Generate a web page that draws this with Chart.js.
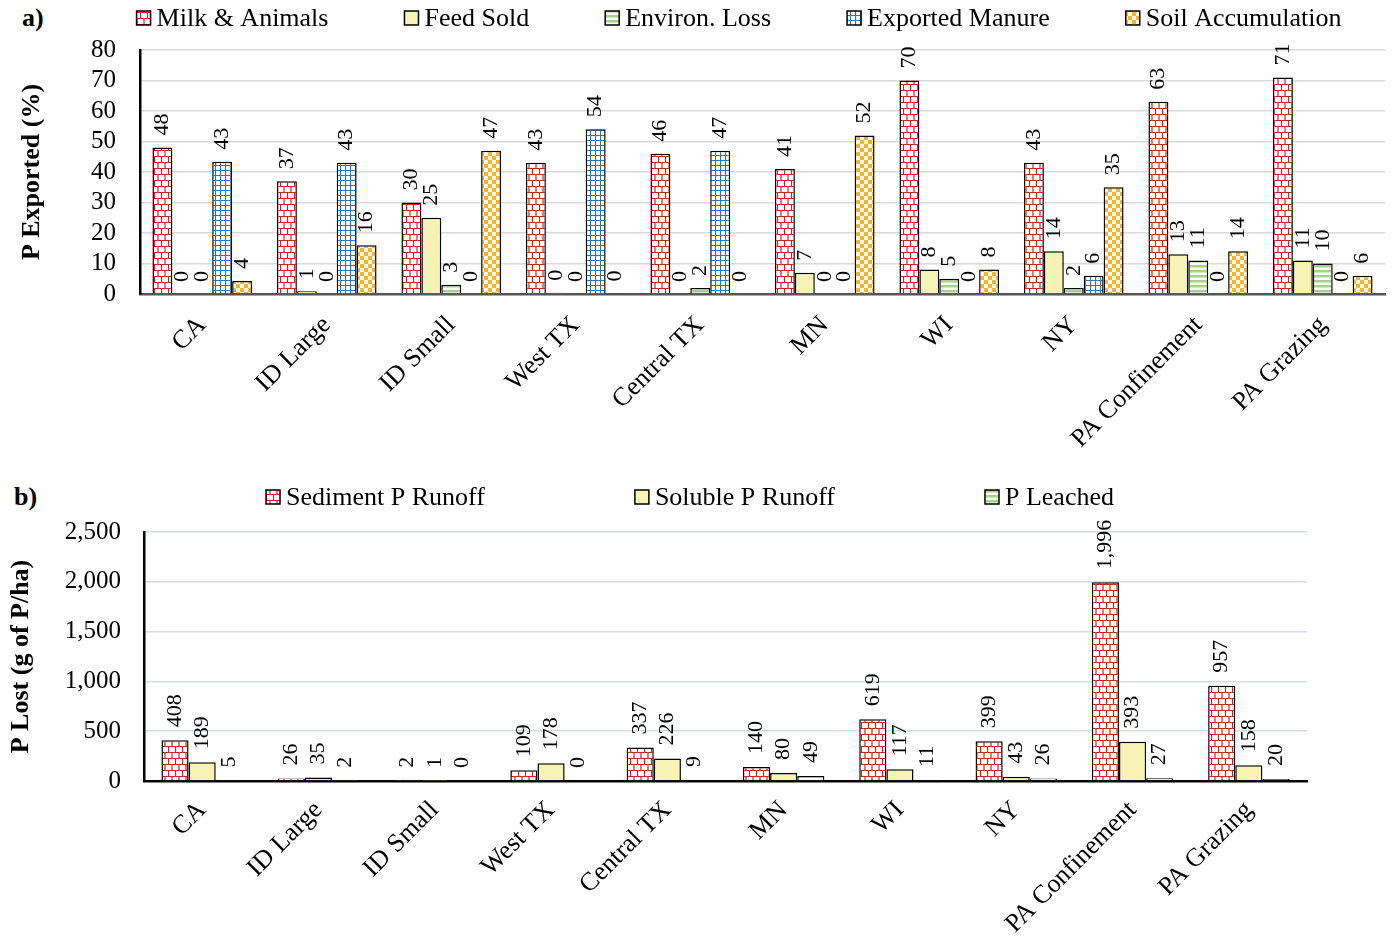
<!DOCTYPE html>
<html>
<head>
<meta charset="utf-8">
<script src="https://cdn.jsdelivr.net/npm/chart.js@4.4.1/dist/chart.umd.min.js"></script>
<style>
  body { margin: 0; background: #fff; width: 1392px; height: 941px; overflow: hidden; position: relative; }
  canvas { position: absolute; left: 0; }
  #chartA { top: 0; }
  #chartB { top: 470px; }
  .panel { position: absolute; font: bold 26px 'Liberation Serif', serif; line-height: 26px; }
</style>
</head>
<body>
<div class="panel" style="left:22px; top:5px;">a)</div>
<div class="panel" style="left:14px; top:484px;">b)</div>
<canvas id="chartA" width="1392" height="470"></canvas>
<canvas id="chartB" width="1392" height="471"></canvas>
<script>
const serif = "'Liberation Serif', 'Times New Roman', serif";

// farm categories (both panels)
const farms = ['CA', 'ID Large', 'ID Small', 'West TX', 'Central TX', 'MN', 'WI', 'NY', 'PA Confinement', 'PA Grazing'];

// panel a: P exported (%)
const milkAnimals   = [48, 37, 30, 43, 46, 41, 70, 43, 63, 71];
const feedSold      = [0, 0.9, 25, 0.4, 0, 7, 8, 14, 13, 11];
const environLoss   = [0, 0, 3, 0, 2, 0, 5, 2, 11, 10];
const exportedManure= [43.4, 43, 0, 54, 47, 0, 0, 6, 0, 0];
const soilAccum     = [4.3, 16, 47, 0.2, 0, 52, 8, 35, 14, 6];
const ticksA = [0, 10, 20, 30, 40, 50, 60, 70, 80];

// panel b: P lost (g of P/ha)
const sedimentRunoff = [408, 26, 2, 109, 337, 140, 619, 399, 1996, 957];
const solubleRunoff  = [189, 35, 1, 178, 226, 80, 117, 43, 393, 158];
const pLeached       = [5, 2, 0, 0, 9, 49, 11, 26, 27, 20];
const ticksB = [0, 500, 1000, 1500, 2000, 2500];

function tile(w, h, draw) {
  const c = document.createElement('canvas');
  c.width = w; c.height = h;
  const g = c.getContext('2d');
  g.fillStyle = '#fff';
  g.fillRect(0, 0, w, h);
  draw(g);
  return g.createPattern(c, 'repeat');
}

const brick = tile(14, 12, g => {
  g.strokeStyle = '#C0282D';
  g.lineWidth = 1.2;
  g.beginPath();
  g.moveTo(0, 0.5); g.lineTo(14, 0.5);
  g.moveTo(0, 6.5); g.lineTo(14, 6.5);
  g.moveTo(0.5, 0); g.lineTo(0.5, 6);
  g.moveTo(7.5, 0); g.lineTo(7.5, 6);
  g.moveTo(4, 6); g.lineTo(4, 12);
  g.moveTo(11, 6); g.lineTo(11, 12);
  g.stroke();
});
const yellow = '#F6F3B5';
const stripes = tile(4, 5, g => {
  g.fillStyle = '#A8D08D';
  g.fillRect(0, 0, 4, 2.5);
});
const blueGrid = tile(5, 5, g => {
  g.strokeStyle = '#2E75B6';
  g.lineWidth = 1.2;
  g.beginPath();
  g.moveTo(0, 0.5); g.lineTo(5, 0.5);
  g.moveTo(0.5, 0); g.lineTo(0.5, 5);
  g.stroke();
});
const checker = tile(8, 8, g => {
  g.fillStyle = '#FFB41F';
  g.fillRect(0, 0, 4, 4);
  g.fillRect(4, 4, 4, 4);
});

// rotated value labels above each bar
const barLabels = {
  id: 'barLabels',
  afterDatasetsDraw(chart, args, opts) {
    const ctx = chart.ctx;
    ctx.save();
    ctx.font = opts.font;
    ctx.fillStyle = '#000';
    ctx.textAlign = 'left';
    ctx.textBaseline = 'middle';
    chart.data.datasets.forEach((ds, i) => {
      chart.getDatasetMeta(i).data.forEach((bar, j) => {
        ctx.save();
        ctx.translate(bar.x, bar.y - opts.offset);
        ctx.rotate(-Math.PI / 2);
        ctx.fillText(Math.round(ds.data[j]).toLocaleString('en-US'), 0, 0);
        ctx.restore();
      });
    });
    ctx.restore();
  }
};

// legend row across the top
const topLegend = {
  id: 'topLegend',
  afterDraw(chart, args, opts) {
    const ctx = chart.ctx;
    ctx.save();
    ctx.font = opts.font;
    const items = chart.data.datasets.map(ds => ({
      text: ds.label, fill: ds.backgroundColor, w: ctx.measureText(ds.label).width
    }));
    const total = items.reduce((s, it) => s + opts.box + opts.textGap + it.w, 0) + opts.gap * (items.length - 1);
    let x = opts.centerX - total / 2;
    ctx.textBaseline = 'middle';
    ctx.textAlign = 'left';
    for (const it of items) {
      ctx.fillStyle = it.fill;
      ctx.fillRect(x, opts.y - opts.box / 2, opts.box, opts.box);
      ctx.strokeStyle = '#000';
      ctx.lineWidth = 1.5;
      ctx.strokeRect(x, opts.y - opts.box / 2, opts.box, opts.box);
      ctx.fillStyle = '#000';
      ctx.fillText(it.text, x + opts.box + opts.textGap, opts.y + 1);
      x += opts.box + opts.textGap + it.w + opts.gap;
    }
    ctx.restore();
  }
};

function dataset(label, data, fill) {
  return { label, data, backgroundColor: fill, borderColor: '#000', borderWidth: 1.5, borderSkipped: 'bottom' };
}

function makeChart(id, datasets, s) {
  return new Chart(document.getElementById(id), {
    type: 'bar',
    data: { labels: farms, datasets },
    plugins: [barLabels, topLegend],
    options: {
      responsive: false,
      animation: false,
      datasets: { bar: { categoryPercentage: s.catPct, barPercentage: 1 } },
      layout: { padding: { top: s.top, right: s.right, left: 0, bottom: 0 } },
      plugins: {
        legend: { display: false },
        tooltip: { enabled: false },
        barLabels: { font: '22px ' + serif, offset: s.labelOffset },
        topLegend: { font: '26px ' + serif, box: 14, textGap: 6, gap: s.legendGap, centerX: s.legendX, y: s.legendY }
      },
      scales: {
        x: {
          grid: { display: false },
          border: { display: true, color: s.xAxisColor, width: 2.5 },
          ticks: { color: '#000', font: { family: serif, size: 26 }, minRotation: 45, maxRotation: 45, autoSkip: false, padding: s.xPad },
          afterFit(scale) { scale.height = s.xHeight; }
        },
        y: {
          min: 0,
          max: s.ticks[s.ticks.length - 1],
          afterBuildTicks(scale) { scale.ticks = s.ticks.map(v => ({ value: v })); },
          grid: { color: s.gridColor, lineWidth: 1.5, drawTicks: false },
          border: { display: true, color: '#000', width: 2.5 },
          ticks: { color: '#000', font: { family: serif, size: 25 }, autoSkip: false, padding: s.yPad, callback: v => v.toLocaleString('en-US') },
          title: { display: true, text: s.title, color: '#000', font: { family: serif, size: 26, weight: 'bold' }, padding: { top: s.titlePad, bottom: 0 } },
          afterFit(scale) { scale.width = s.yWidth; }
        }
      }
    }
  });
}

makeChart('chartA', [
  dataset('Milk & Animals', milkAnimals, brick),
  dataset('Feed Sold', feedSold, yellow),
  dataset('Environ. Loss', environLoss, stripes),
  dataset('Exported Manure', exportedManure, blueGrid),
  dataset('Soil Accumulation', soilAccum, checker)
], {
  catPct: 0.8, top: 50, right: 7, xHeight: 176, yWidth: 140, xPad: 8, yPad: 24,
  ticks: ticksA, title: 'P Exported (%)', titlePad: 17, gridColor: '#D9D9D9', xAxisColor: '#555',
  labelOffset: 12, legendGap: 76, legendX: 739, legendY: 18
});

makeChart('chartB', [
  dataset('Sediment P Runoff', sedimentRunoff, brick),
  dataset('Soluble P Runoff', solubleRunoff, yellow),
  dataset('P Leached', pLeached, stripes)
], {
  catPct: 0.7, top: 62, right: 85, xHeight: 160, yWidth: 144, xPad: 6, yPad: 23,
  ticks: ticksB, title: 'P Lost (g of P/ha)', titlePad: 6, gridColor: '#D6DCE5', xAxisColor: '#000',
  labelOffset: 13, legendGap: 150, legendX: 690, legendY: 27
});
</script>
</body>
</html>
